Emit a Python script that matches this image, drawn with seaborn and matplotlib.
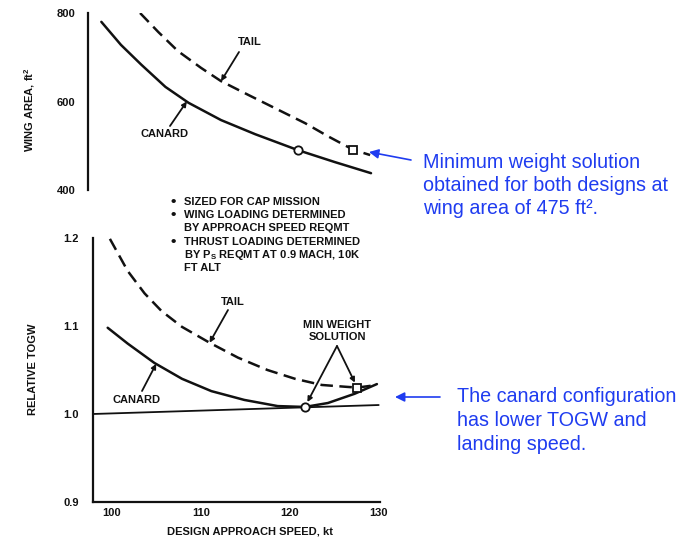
import matplotlib
matplotlib.use("Agg")
import matplotlib.pyplot as plt
from matplotlib.patches import FancyArrowPatch
import seaborn as sns
import pandas as pd

# ---------------- data ----------------
# Top panel: wing area (ft^2) vs design approach speed (kt)
top_canard_speed = [99.4, 101.6, 103.9, 106.6, 109.2, 112.85, 116.7, 121.5, 125.65, 129.7]
top_canard_area = [780, 728, 683, 633, 597, 558, 526, 490, 463, 438]
top_tail_speed = [103.75, 105.8, 108.0, 110.6, 112.85, 115.9, 118.9, 122.3, 124.9, 127.7, 129.6]
top_tail_area = [800, 757, 714, 676, 646, 615, 585, 551, 521, 491, 479]
top_min_canard = (121.5, 490)
top_min_tail = (127.7, 491)

# Bottom panel: relative TOGW vs design approach speed (kt)
bot_canard_speed = [99.55, 101.8, 104.8, 107.9, 111.2, 114.9, 118.65, 121.7, 124.3, 127.3, 129.8]
bot_canard_togw = [1.098, 1.080, 1.058, 1.040, 1.026, 1.016, 1.009, 1.008, 1.0125, 1.023, 1.034]
bot_tail_speed = [99.8, 101.8, 103.7, 105.6, 107.9, 111.0, 114.2, 117.5, 120.6, 123.6, 126.2, 127.6, 129.8]
bot_tail_togw = [1.199, 1.1625, 1.137, 1.117, 1.099, 1.081, 1.064, 1.050, 1.040, 1.033, 1.031, 1.030, 1.033]
bot_min_canard = (121.7, 1.008)
bot_min_tail = (127.6, 1.030)
baseline_speed = [97.9, 130.0]
baseline_togw = [1.0, 1.0102]

top_yticks = [400, 500, 600, 700, 800]
top_yticklabels = ["400", "", "600", "", "800"]
bot_yticks = [0.9, 1.0, 1.1, 1.2]
bot_yticklabels = ["0.9", "1.0", "1.1", "1.2"]
xticks = [100, 110, 120, 130]
xticklabels = ["100", "110", "120", "130"]

notes = ["SIZED FOR CAP MISSION",
         "WING LOADING DETERMINED",
         "BY APPROACH SPEED REQMT",
         "THRUST LOADING DETERMINED",
         r"BY P$_\mathrm{S}$ REQMT AT 0.9 MACH, 10K",
         "FT ALT"]
note_bullets = [True, True, False, True, False, False]

blue_text1 = ["Minimum weight solution", "obtained for both designs at", "wing area of 475 ft\u00b2."]
blue_text2 = ["The canard configuration", "has lower TOGW and", "landing speed."]

# ---------------- styling ----------------
sns.set_theme(style="white")
FAM = ["Liberation Sans", "DejaVu Sans"]
plt.rcParams["font.family"] = FAM
plt.rcParams["mathtext.fontset"] = "custom"
plt.rcParams["mathtext.rm"] = "Liberation Sans:bold"
plt.rcParams["mathtext.bf"] = "Liberation Sans:bold"
plt.rcParams["mathtext.it"] = "Liberation Sans:bold"

W, H = 684, 540
fig = plt.figure(figsize=(W / 100, H / 100), dpi=100)
fig.patch.set_facecolor("white")


def F(x, y):
    """reference pixel (from top-left) -> figure fraction"""
    return (x / W, 1 - y / H)


XLIM = (97.9, 130.2)
axw = (XLIM[1] - XLIM[0]) * 8.9
ax1 = fig.add_axes([88 / W, 1 - 190 / H, axw / W, 177 / H])
ax2 = fig.add_axes([93 / W, 1 - 502 / H, axw / W, 264 / H])

LW = 1.8
BLACK = "#111111"
TXT = dict(fontsize=8, fontweight="bold", color=BLACK, family=FAM)
DASH = (5, 2.6)

# --- top panel ---
df_tc = pd.DataFrame({"speed": top_canard_speed, "val": top_canard_area})
df_tt = pd.DataFrame({"speed": top_tail_speed, "val": top_tail_area})
sns.lineplot(data=df_tc, x="speed", y="val", ax=ax1, color=BLACK, lw=LW, sort=False)
sns.lineplot(data=df_tt, x="speed", y="val", ax=ax1, color=BLACK, lw=LW, sort=False)
ax1.lines[-1].set_dashes(DASH)
ax1.plot(*top_min_canard, marker="o", ms=6, mfc="white", mec=BLACK, mew=1.3, zorder=5)
ax1.plot(*top_min_tail, marker="s", ms=6, mfc="white", mec=BLACK, mew=1.3, zorder=5)
ax1.set_xlim(*XLIM)
ax1.set_ylim(400, 800)
for s in ["top", "right", "bottom"]:
    ax1.spines[s].set_visible(False)
ax1.spines["left"].set_linewidth(1.6)
ax1.spines["left"].set_color(BLACK)
ax1.set_xticks([])
ax1.set_yticks(top_yticks)
ax1.set_yticklabels(top_yticklabels)
ax1.tick_params(axis="y", direction="in", length=6, width=1.4, color=BLACK, pad=9)
for t in ax1.get_yticklabels():
    t.set(**TXT)
ax1.set_xlabel("")
ax1.set_ylabel("")
ax1.patch.set_alpha(0)

# --- bottom panel ---
df_bc = pd.DataFrame({"speed": bot_canard_speed, "val": bot_canard_togw})
df_bt = pd.DataFrame({"speed": bot_tail_speed, "val": bot_tail_togw})
df_bl = pd.DataFrame({"speed": baseline_speed, "val": baseline_togw})
sns.lineplot(data=df_bl, x="speed", y="val", ax=ax2, color=BLACK, lw=1.3, sort=False)
sns.lineplot(data=df_bc, x="speed", y="val", ax=ax2, color=BLACK, lw=LW, sort=False)
sns.lineplot(data=df_bt, x="speed", y="val", ax=ax2, color=BLACK, lw=LW, sort=False)
ax2.lines[-1].set_dashes(DASH)
ax2.plot(*bot_min_canard, marker="o", ms=6, mfc="white", mec=BLACK, mew=1.3, zorder=5)
ax2.plot(*bot_min_tail, marker="s", ms=6, mfc="white", mec=BLACK, mew=1.3, zorder=5)
ax2.set_xlim(*XLIM)
ax2.set_ylim(0.9, 1.2)
for s in ["top", "right"]:
    ax2.spines[s].set_visible(False)
for s in ["left", "bottom"]:
    ax2.spines[s].set_linewidth(1.6)
    ax2.spines[s].set_color(BLACK)
ax2.set_xticks(xticks)
ax2.set_xticklabels(xticklabels)
ax2.set_yticks(bot_yticks)
ax2.set_yticklabels(bot_yticklabels)
ax2.tick_params(axis="y", direction="in", length=6, width=1.4, color=BLACK, pad=10)
ax2.tick_params(axis="x", direction="in", length=6, width=1.4, color=BLACK, pad=4)
for t in ax2.get_yticklabels() + ax2.get_xticklabels():
    t.set(**TXT)
ax2.set_xlabel("")
ax2.set_ylabel("")
ax2.patch.set_alpha(0)

# axis titles
fig.text(*F(30, 110), "WING AREA, ft$^2$", rotation=90, ha="center", va="center", **TXT)
fig.text(*F(33, 369), "RELATIVE TOGW", rotation=90, ha="center", va="center", **TXT)
fig.text(*F(250, 531), "DESIGN APPROACH SPEED, kt", ha="center", va="center", **TXT)

# notes
BUL = dict(TXT, fontsize=11)
for i, (line, b) in enumerate(zip(notes, note_bullets)):
    y = 202 + i * 13.2
    if b:
        fig.text(*F(173, y), "\u2022", ha="center", va="center", **BUL)
    fig.text(*F(184, y), line, ha="left", va="center", **TXT)

AP = dict(arrowstyle="-|>", color=BLACK, lw=1.3, mutation_scale=7, shrinkA=0, shrinkB=0)

# curve labels
ax1.text(*F(250, 42), "TAIL", transform=fig.transFigure, ha="center", va="center", **TXT)
ax1.annotate("", xy=(112.85, 646), xycoords="data", xytext=F(239, 52),
             textcoords="figure fraction", arrowprops=AP)
ax1.text(*F(165, 134), "CANARD", transform=fig.transFigure, ha="center", va="center", **TXT)
ax1.annotate("", xy=(109.0, 600), xycoords="data", xytext=F(170, 126),
             textcoords="figure fraction", arrowprops=AP)

ax2.text(*F(233, 302), "TAIL", transform=fig.transFigure, ha="center", va="center", **TXT)
ax2.annotate("", xy=(111.0, 1.081), xycoords="data", xytext=F(228, 310),
             textcoords="figure fraction", arrowprops=AP)
ax2.text(*F(137, 400), "CANARD", transform=fig.transFigure, ha="center", va="center", **TXT)
ax2.annotate("", xy=(105.0, 1.057), xycoords="data", xytext=F(142, 391),
             textcoords="figure fraction", arrowprops=AP)
fig.text(*F(337, 325), "MIN WEIGHT", ha="center", va="center", **TXT)
fig.text(*F(337, 337), "SOLUTION", ha="center", va="center", **TXT)
ax2.annotate("", xy=bot_min_canard, xycoords="data", xytext=F(337, 346),
             textcoords="figure fraction", arrowprops=dict(AP, shrinkB=4))
ax2.annotate("", xy=bot_min_tail, xycoords="data", xytext=F(337, 346),
             textcoords="figure fraction", arrowprops=dict(AP, shrinkB=4))

# blue call-outs
BLUE = "#1f3cf0"
BT = dict(fontsize=14.2, color=BLUE, family=FAM, ha="left", va="center")
for i, line in enumerate(blue_text1):
    fig.text(*F(423, 163 + i * 22.5), line, **BT)
for i, line in enumerate(blue_text2):
    fig.text(*F(457, 397 + i * 24), line, **BT)
BAP = dict(arrowstyle="-|>", color=BLUE, lw=1.2, mutation_scale=14, shrinkA=0, shrinkB=0)
fig.add_artist(FancyArrowPatch(F(411, 160), F(369, 152), transform=fig.transFigure, **BAP))
fig.add_artist(FancyArrowPatch(F(440, 397), F(395, 397), transform=fig.transFigure, **BAP))

fig.savefig("out.png", dpi=100)
